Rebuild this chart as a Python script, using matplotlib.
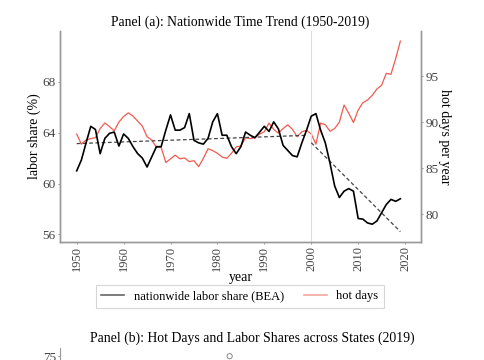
import numpy as np
import matplotlib
matplotlib.use("Agg")
import matplotlib.pyplot as plt
from matplotlib.lines import Line2D

plt.rcParams['font.family'] = ['Liberation Serif', 'DejaVu Serif']

# ---- data ----
years = np.arange(1950, 2020)

labor_share = [
    61.0, 61.85, 63.2, 64.5, 64.25, 62.35, 63.55, 63.95, 64.05, 62.95,
    63.9, 63.55, 62.9, 62.35, 62.0, 61.3, 62.1, 62.9, 62.9, 64.2,
    65.4, 64.2, 64.2, 64.4, 65.5, 63.4, 63.2, 63.1, 63.55, 64.85,
    65.5, 63.8, 63.8, 62.9, 62.35, 62.9, 64.05, 63.8, 63.6, 64.05,
    64.5, 64.1, 64.85, 64.3, 63.0, 62.6, 62.2, 62.1, 63.2, 64.2,
    65.3, 65.5, 64.2, 63.2, 61.6, 59.8, 58.9, 59.4, 59.6, 59.4,
    57.25, 57.2, 56.9, 56.8, 57.05, 57.7, 58.35, 58.75, 58.6, 58.8,
]

hot_days = [
    88.7, 87.6, 88.05, 88.2, 88.3, 89.3, 89.9, 89.5, 89.05, 90.0,
    90.6, 91.0, 90.65, 90.1, 89.55, 88.4, 88.05, 87.25, 87.25, 85.6,
    86.0, 86.4, 86.0, 86.1, 85.7, 85.8, 85.15, 86.05, 87.1, 86.9,
    86.6, 86.2, 86.05, 86.6, 87.3, 87.4, 88.3, 88.2, 88.3, 88.7,
    88.95, 89.9, 89.2, 88.8, 89.3, 89.7, 89.2, 88.4, 88.95, 89.1,
    88.7, 87.6, 89.9, 89.7, 89.0, 89.3, 90.0, 91.85, 90.95, 89.95,
    91.3, 92.1, 92.4, 92.9, 93.6, 94.0, 95.3, 95.2, 96.9, 98.8,
]

break_year = 2000

# panel (b) only shows its top edge in the crop
state_hot_days = [67]
state_labor_share = [75]

labor_share = np.array(labor_share)
hot_days = np.array(hot_days)

RED = '#f25a50'

fig = plt.figure(figsize=(4.85, 3.6), dpi=100)
ax1 = fig.add_axes([60 / 485, 1 - 242 / 360, 361 / 485, 211 / 360])
ax2 = ax1.twinx()

# --- panel (a) ---
ax2.plot(years, hot_days, color=RED, linewidth=0.9, zorder=2)
ax1.plot(years, labor_share, color='black', linewidth=1.2, zorder=3)
ax1.set_zorder(ax2.get_zorder() + 1)
ax1.patch.set_visible(False)

# linear trends before / after the break
pre = years < break_year
post = ~pre
for mask in (pre, post):
    coef = np.polyfit(years[mask], labor_share[mask], 1)
    yr = years[mask]
    ax1.plot(yr, np.polyval(coef, yr), color='#444444', linestyle=(0, (3, 2)),
             linewidth=0.9, zorder=2)

ax1.axvline(break_year, color='#dddddd', linewidth=0.8, zorder=0)

ax1.set_xlim(1946.44, 2023.4)
ax1.set_ylim(55.4, 72.0)
ax2.set_ylim(76.96, 99.9)
ax1.set_yticks([56, 60, 64, 68])
ax2.set_yticks([80, 85, 90, 95])
ax1.set_xticks(np.arange(1950, 2030, 10))

for a in (ax1, ax2):
    a.spines['top'].set_visible(False)
    for s in ('left', 'right', 'bottom'):
        a.spines[s].set_color('#999999')
        a.spines[s].set_linewidth(1.0)
    a.tick_params(colors='#999999', labelcolor='#444444', labelsize=9.5,
                  length=1.5, pad=1.5)

ax1.tick_params(axis='x', labelrotation=90, labelsize=9)
ax1.set_xlabel('year', fontsize=10, labelpad=0)
ax1.set_ylabel('labor share (%)', fontsize=10, labelpad=1)
ax2.set_ylabel('hot days per year', fontsize=10, rotation=-90, labelpad=9)

ax1.set_title('Panel (a): Nationwide Time Trend (1950-2019)', fontsize=9.8, pad=4)

handles = [Line2D([0], [0], color='#666666', linewidth=1.2),
           Line2D([0], [0], color='#f5a6a0', linewidth=1.2)]
leg = fig.legend(handles, ['nationwide labor share (BEA)', 'hot days'],
                 loc='center', bbox_to_anchor=(240 / 485, 1 - 296.5 / 360),
                 ncol=2, fontsize=9, frameon=True, fancybox=False,
                 handlelength=1.8, columnspacing=1.6, borderpad=0.45)
leg.get_frame().set_edgecolor('#cccccc')
leg.get_frame().set_linewidth(0.8)

# --- panel (b), only the top edge is visible ---
fig.text(252 / 485, 1 - 338 / 360, 'Panel (b): Hot Days and Labor Shares across States (2019)',
         ha='center', va='center', fontsize=9.9)
axb = fig.add_axes([60 / 485, -0.5, 361 / 485, 0.5 + 1 - 348 / 360])
axb.scatter(state_hot_days, state_labor_share, s=14, facecolors='none',
            edgecolors='#888888', linewidths=0.7)
axb.set_xlim(20, 120)
axb.set_ylim(30, 77.0)
axb.set_yticks([75])
axb.set_xticks([])
for s in ('top', 'right', 'bottom'):
    axb.spines[s].set_visible(False)
axb.spines['left'].set_color('#999999')
axb.tick_params(colors='#999999', labelcolor='#444444', labelsize=9.5,
                length=1.5, pad=1.5)

fig.savefig('out.png', dpi=100)
